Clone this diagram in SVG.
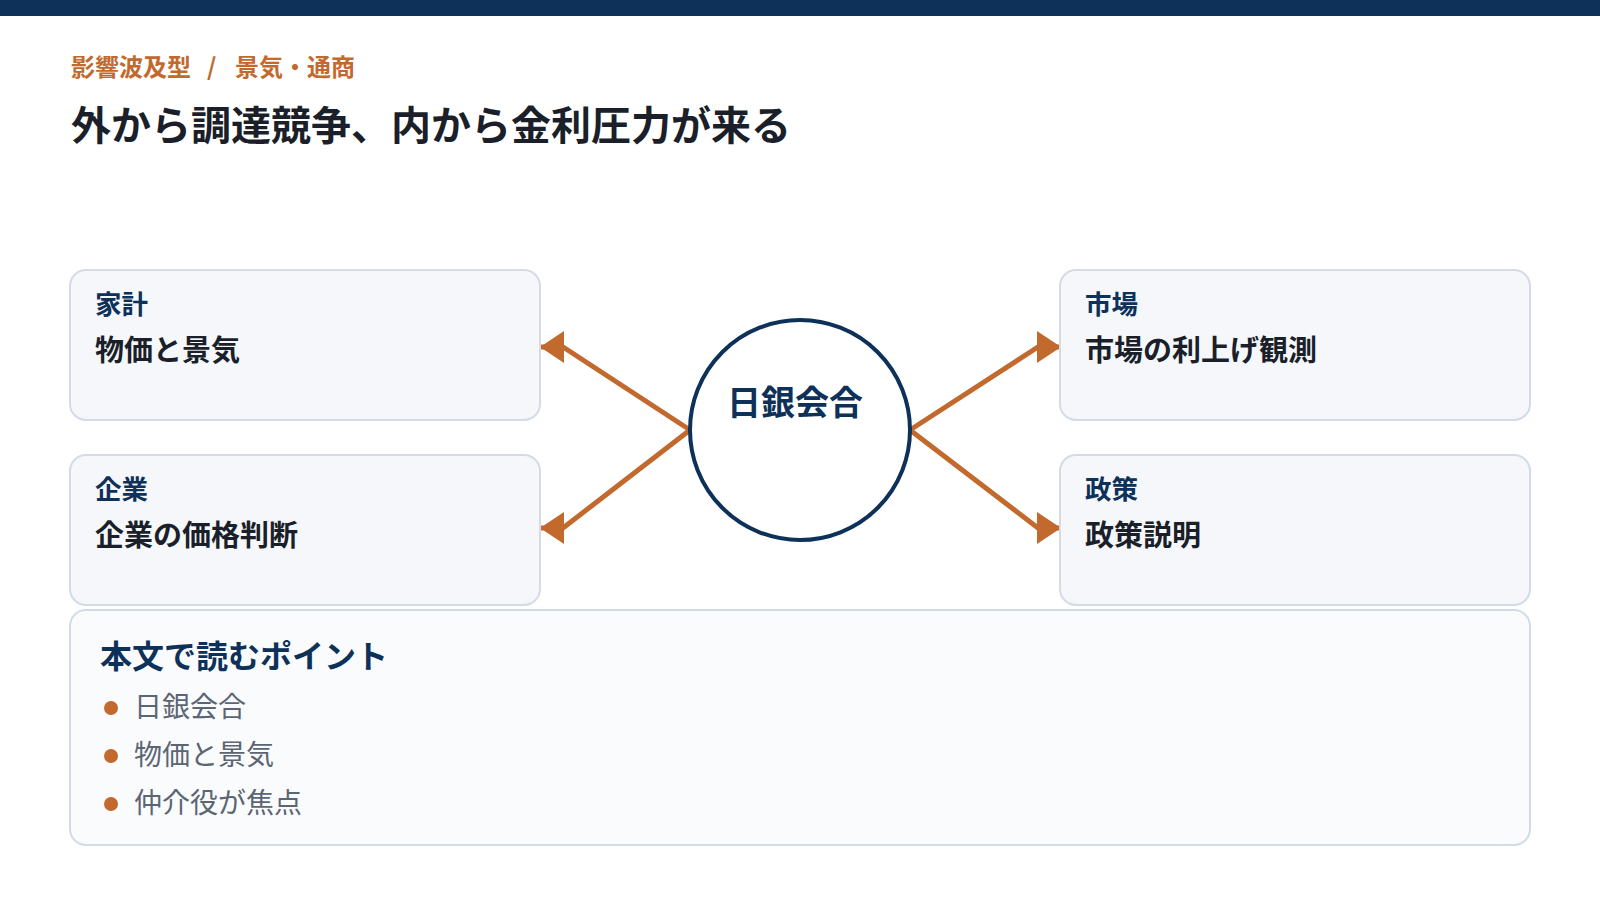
<svg xmlns="http://www.w3.org/2000/svg" width="1600" height="900" viewBox="0 0 1600 900">
<style>
text{font-family:"Noto Sans CJK JP","Noto Sans",sans-serif}
.sub{font-size:24px;font-weight:700;fill:#c2692e}
.title{font-size:40px;font-weight:700;fill:#1a1f29}
.box{fill:#f5f7fb;stroke:#d3dbe6;stroke-width:2}
.panel{fill:#fafbfd;stroke:#d3dbe6;stroke-width:2}
.lbl{font-size:26.5px;font-weight:700;fill:#0d3158}
.main{font-size:29px;font-weight:700;fill:#1a1f29}
.hub{font-size:34px;font-weight:700;fill:#0d3158}
.head{font-size:32px;font-weight:700;fill:#0d3158}
.item{font-size:28px;font-weight:400;fill:#5b6573}
.conn{stroke:#c2692e;stroke-width:5;fill:none}
.dot{fill:#c2692e}
</style>
<defs>
<marker id="ah" viewBox="0 0 24 32" refX="24" refY="16" markerWidth="24" markerHeight="32" markerUnits="userSpaceOnUse" orient="auto">
<path d="M0,0 L24,16 L0,32 Z" fill="#c2692e"/>
</marker>
</defs>
<rect x="0" y="0" width="1600" height="16" fill="#0d3158"/>
<g id="header">
<text class="sub" y="76"><tspan x="71">影響波及型</tspan><tspan x="207">/</tspan><tspan x="235">景気・通商</tspan></text>
<text class="title" x="71" y="140">外から調達競争、内から金利圧力が来る</text>
</g>
<g id="connectors">
<path class="conn" d="M690,430 L563,347 L540,347" marker-end="url(#ah)"/>
<path class="conn" d="M690,430 L563,528 L540,528" marker-end="url(#ah)"/>
<path class="conn" d="M910,430 L1038,347 L1061,347" marker-end="url(#ah)"/>
<path class="conn" d="M910,430 L1038,528 L1061,528" marker-end="url(#ah)"/>
</g>
<g id="node-household">
<rect class="box" x="70" y="270" width="470" height="150" rx="16"/>
<text class="lbl" x="95" y="314">家計</text>
<text class="main" x="95" y="361">物価と景気</text>
</g>
<g id="node-company">
<rect class="box" x="70" y="455" width="470" height="150" rx="16"/>
<text class="lbl" x="95" y="499">企業</text>
<text class="main" x="95" y="546">企業の価格判断</text>
</g>
<g id="node-market">
<rect class="box" x="1060" y="270" width="470" height="150" rx="16"/>
<text class="lbl" x="1085" y="314">市場</text>
<text class="main" x="1085" y="361">市場の利上げ観測</text>
</g>
<g id="node-policy">
<rect class="box" x="1060" y="455" width="470" height="150" rx="16"/>
<text class="lbl" x="1085" y="499">政策</text>
<text class="main" x="1085" y="546">政策説明</text>
</g>
<g id="node-boj">
<circle cx="800" cy="430" r="110" fill="#ffffff" stroke="#0d3158" stroke-width="4"/>
<text class="hub" x="795" y="415" text-anchor="middle">日銀会合</text>
</g>
<g id="points">
<rect class="panel" x="70" y="610" width="1460" height="235" rx="16"/>
<text class="head" x="100" y="668">本文で読むポイント</text>
<circle class="dot" cx="111" cy="708" r="7"/>
<text class="item" x="134" y="717">日銀会合</text>
<circle class="dot" cx="111" cy="756" r="7"/>
<text class="item" x="134" y="765">物価と景気</text>
<circle class="dot" cx="111" cy="804" r="7"/>
<text class="item" x="134" y="813">仲介役が焦点</text>
</g>
</svg>
